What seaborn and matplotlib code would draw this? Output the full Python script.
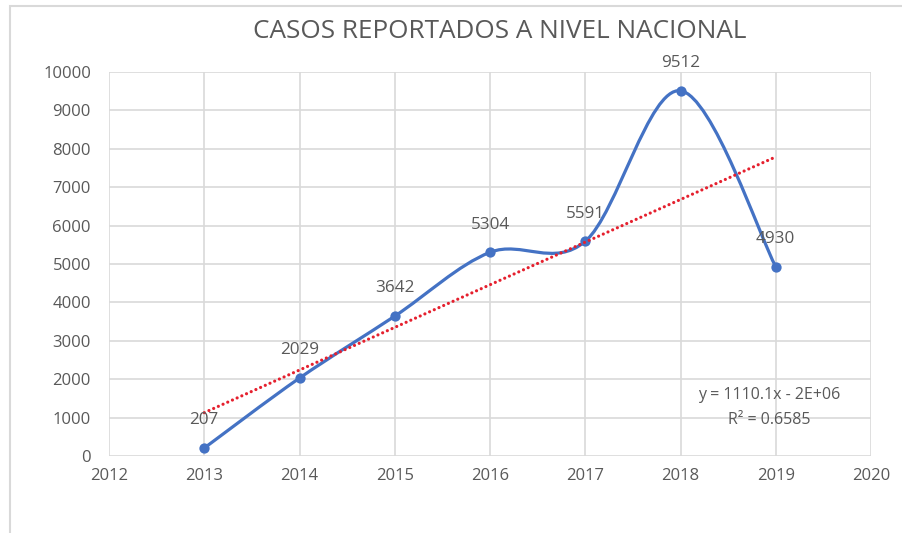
import numpy as np
import pandas as pd
import matplotlib
matplotlib.use("Agg")
import matplotlib.pyplot as plt
import seaborn as sns
from matplotlib.path import Path
from matplotlib.patches import PathPatch, Rectangle

# data
years = [2013, 2014, 2015, 2016, 2017, 2018, 2019]
casos = [207, 2029, 3642, 5304, 5591, 9512, 4930]
titulo = "CASOS REPORTADOS A NIVEL NACIONAL"
ecuacion = "y = 1110.1x - 2E+06"
r2_texto = "R² = 0.6585"

df = pd.DataFrame({"anio": years, "casos": casos})

sns.set_style("whitegrid")
plt.rcParams["font.family"] = ["Open Sans", "DejaVu Sans"]

gris = "#595959"
azul = "#4472C4"
rojo = "#E5202E"
grid_c = "#D9D9D9"

fig = plt.figure(figsize=(9.03, 5.33), dpi=100)
ax = fig.add_axes([109 / 903, 1 - 456 / 533, (871 - 109) / 903, (456 - 72) / 533])

# outer chart frame like excel
fig.patches.append(Rectangle((10 / 903, -0.1), 1.2, 1 - 6 / 533 + 0.1, transform=fig.transFigure,
                             fill=False, edgecolor=grid_c, linewidth=1.5))

# smoothed line (excel style bezier)
x = np.array(years, dtype=float)
y = np.array(casos, dtype=float)
pts = np.column_stack([x, y])
verts = [pts[0]]
codes = [Path.MOVETO]
n = len(pts)
for i in range(n - 1):
    p_prev = pts[i - 1] if i > 0 else pts[i]
    p_next2 = pts[i + 2] if i + 2 < n else pts[i + 1]
    c1 = pts[i] + (pts[i + 1] - p_prev) / 6
    c2 = pts[i + 1] - (p_next2 - pts[i]) / 6
    verts += [c1, c2, pts[i + 1]]
    codes += [Path.CURVE4] * 3
ax.add_patch(PathPatch(Path(verts, codes), fill=False, edgecolor=azul, linewidth=2.3,
                       capstyle="round", joinstyle="round", zorder=3))

sns.scatterplot(data=df, x="anio", y="casos", color=azul, s=55, edgecolor=azul,
                linewidth=0, zorder=4, ax=ax, legend=False)

# linear trendline
sns.regplot(data=df, x="anio", y="casos", scatter=False, ci=None, truncate=True, ax=ax,
            line_kws=dict(color=rojo, linewidth=2.3, linestyle=(0, (0.01, 1.6)),
                          dash_capstyle="round", zorder=5))

for xi, yi in zip(years, casos):
    ax.annotate(str(yi), (xi, yi), xytext=(0, 20), textcoords="offset points",
                ha="center", va="center", fontsize=12.3, color=gris, zorder=6)

ax.text(2018.93, 1600, ecuacion, ha="center", va="center", fontsize=11.5, color=gris)
ax.text(2018.93, 950, r2_texto, ha="center", va="center", fontsize=11.5, color=gris)

ax.set_xlim(2012, 2020)
ax.set_ylim(0, 10000)
ax.set_xticks(range(2012, 2021))
ax.set_yticks(range(0, 10001, 1000))
ax.grid(True, color=grid_c, linewidth=1.2)
ax.set_axisbelow(True)
for s in ax.spines.values():
    s.set_visible(False)
ax.set_xlabel("")
ax.set_ylabel("")
ax.tick_params(axis="both", length=0, labelsize=12, labelcolor=gris)
ax.tick_params(axis="y", pad=13)
ax.tick_params(axis="x", pad=9)

fig.text(500 / 903, 1 - 31 / 533, titulo, ha="center", va="center", fontsize=18.8, color=gris)

fig.savefig("out.png", dpi=100, facecolor="white")
